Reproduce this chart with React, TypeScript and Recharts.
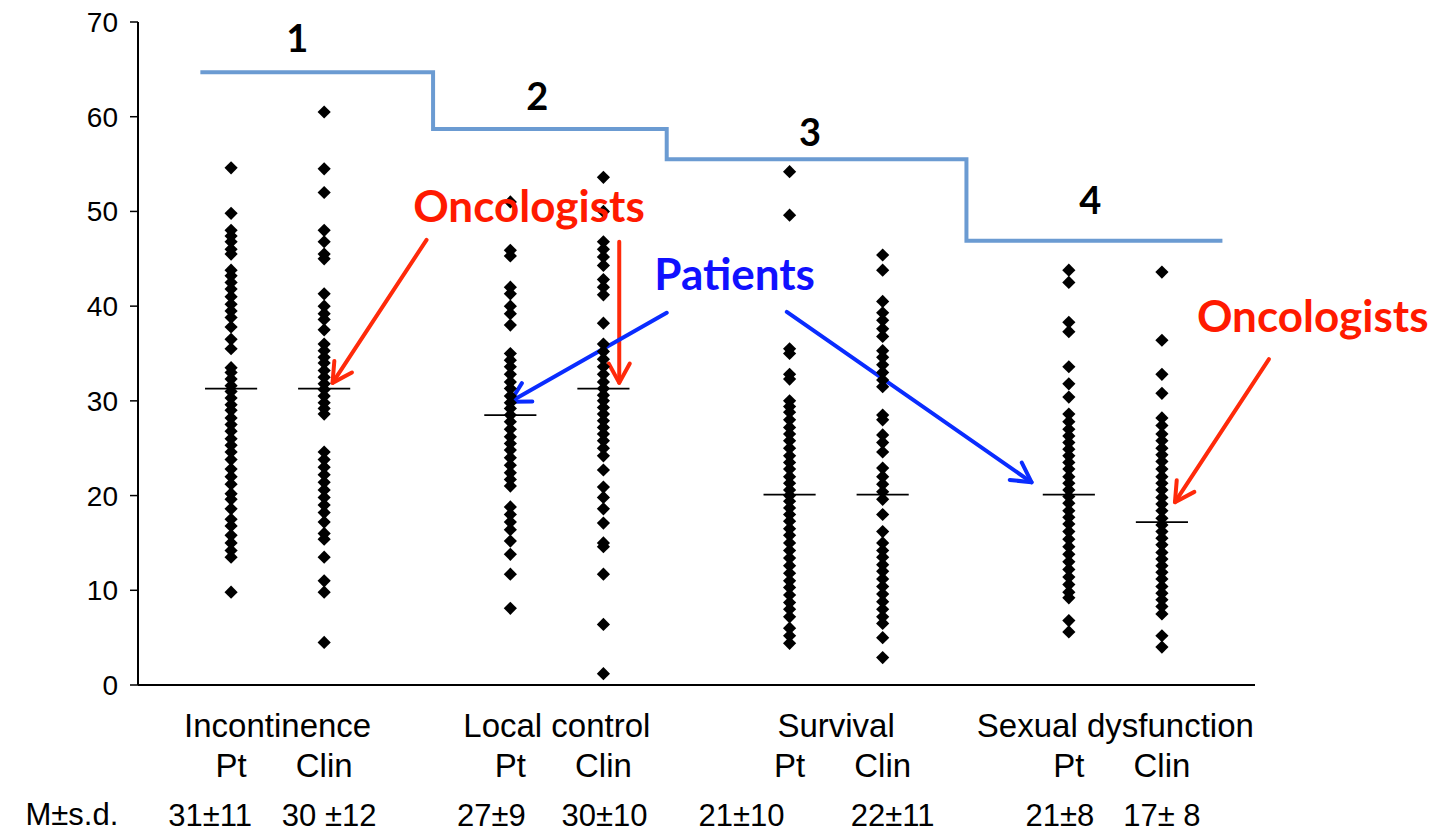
import {
  ComposedChart,
  Scatter,
  Line,
  XAxis,
  YAxis,
  ReferenceLine,
  ReferenceDot,
} from "recharts";

// column layout: Pt / Clin pairs per outcome
const colPos = [1, 2, 4, 5, 7, 8, 10, 11];
const groupPos = [1.5, 4.5, 7.5, 10.5];
const groups = ["Incontinence", "Local control", "Survival", "Sexual dysfunction"];
const roles = ["Pt", "Clin"];
const msd = ["31±11", "30 ±12", "27±9", "30±10", "21±10", "22±11", "21±8", "17± 8"];
const yTicks = [0, 10, 20, 30, 40, 50, 60, 70];

const incPt = [54.6, 49.8, 48.0, 47.4, 46.8, 46.0, 45.5, 43.8, 43.2, 42.5, 41.8, 41.0, 40.2, 39.5, 38.8, 37.8, 36.5, 35.5, 33.5, 33.0, 32.3, 31.6, 31.0, 30.3, 29.6, 29.0, 28.2, 27.5, 26.8, 26.0, 25.3, 24.6, 23.8, 22.8, 22.0, 21.2, 20.2, 19.6, 18.6, 17.5, 16.8, 15.8, 15.0, 14.2, 13.5, 9.8];
const incClin = [60.5, 54.5, 52.0, 48.0, 46.8, 45.5, 45.0, 41.3, 40.0, 39.2, 38.6, 37.5, 36.0, 35.3, 34.6, 34.0, 33.2, 32.5, 31.8, 31.2, 30.5, 29.8, 29.2, 28.6, 24.6, 23.8, 23.0, 22.2, 21.4, 20.6, 19.8, 19.0, 18.2, 17.2, 16.0, 15.4, 13.5, 11.0, 9.8, 4.5];
const lcPt = [51.0, 45.9, 45.3, 42.0, 41.3, 40.0, 39.2, 38.0, 35.0, 34.3, 33.6, 32.8, 32.0, 31.3, 30.5, 29.8, 29.2, 28.5, 27.8, 27.0, 26.2, 25.5, 24.8, 24.0, 23.2, 22.4, 21.7, 21.0, 18.8, 18.0, 17.2, 16.4, 15.2, 13.8, 11.7, 8.1];
const lcClin = [53.6, 50.0, 46.8, 46.0, 45.2, 44.3, 42.8, 42.0, 41.2, 38.2, 36.0, 35.2, 34.4, 33.6, 32.8, 32.0, 31.3, 30.6, 30.0, 29.3, 28.6, 27.9, 27.2, 26.5, 25.8, 25.0, 24.2, 22.7, 20.9, 19.8, 18.6, 17.1, 15.0, 14.6, 11.7, 6.4, 1.2];
const survPt = [54.2, 49.6, 35.5, 35.0, 32.8, 32.3, 30.0, 29.4, 28.8, 28.0, 27.2, 26.5, 25.8, 25.0, 24.2, 23.5, 22.8, 22.0, 21.3, 20.6, 20.0, 19.4, 18.7, 18.0, 17.3, 16.5, 15.8, 15.0, 14.2, 13.4, 12.6, 11.8, 11.0, 10.3, 9.5, 8.7, 8.0, 7.2, 6.0, 5.2, 4.4];
const survClin = [45.4, 43.8, 40.5, 39.3, 38.5, 37.6, 36.8, 35.3, 34.6, 33.8, 33.0, 32.2, 31.5, 28.5, 28.0, 26.4, 25.6, 24.6, 22.9, 22.0, 21.2, 20.4, 19.6, 18.0, 16.2, 15.0, 14.2, 13.5, 12.7, 12.0, 11.2, 10.4, 9.6, 8.8, 8.0, 7.2, 6.5, 5.0, 2.9];
const sexPt = [43.8, 42.5, 38.3, 37.3, 33.6, 31.8, 30.4, 28.6, 27.8, 27.0, 26.3, 25.6, 24.9, 24.2, 23.5, 22.8, 22.0, 21.3, 20.6, 19.9, 19.2, 18.4, 17.7, 17.0, 16.2, 15.4, 14.6, 13.8, 13.0, 12.2, 11.4, 10.6, 9.8, 9.2, 6.8, 5.6];
const sexClin = [43.6, 36.4, 32.8, 30.8, 28.2, 27.4, 26.5, 25.8, 25.0, 24.3, 23.6, 22.8, 22.0, 21.3, 20.6, 19.8, 19.1, 18.4, 17.6, 16.9, 16.2, 15.5, 14.8, 14.0, 13.3, 12.6, 11.9, 11.2, 10.4, 9.7, 9.0, 8.3, 7.5, 5.2, 4.0];
const columns = [incPt, incClin, lcPt, lcClin, survPt, survClin, sexPt, sexClin];

// horizontal bars drawn across each column
const means = [31.3, 31.3, 28.5, 31.3, 20.1, 20.1, 20.1, 17.2];

// ranking step line
const stepX = [0.67, 3.17, 5.68, 8.9, 11.65];
const stepY = [64.7, 58.7, 55.5, 46.9, 46.9];

// rank numbers above the steps
const rankLabels = ["1", "2", "3", "4"];
const rankX = [1.71, 4.29, 7.22, 10.23];
const rankY = [66.8, 60.7, 56.9, 49.7];

// callouts
const calloutText = ["Oncologists", "Patients", "Oncologists"];
const calloutColor = ["#ff1a00", "#1010ff", "#ff1a00"];
const calloutX = [4.2, 6.41, 12.62];
const calloutY = [48.9, 41.7, 37.3];

// arrows [x1, y1, x2, y2]
const arrows = [
  [3.1, 47.0, 2.09, 31.9],
  [5.17, 46.8, 5.17, 31.9],
  [5.68, 39.3, 4.0, 29.9],
  [6.97, 39.4, 9.6, 21.4],
  [12.15, 34.4, 11.14, 19.3],
];
const arrowColor = ["#ff2a0a", "#ff2a0a", "#0a2cff", "#0a2cff", "#ff2a0a"];

const stepData = stepX.map((x, i) => ({ x, y: stepY[i] }));
const FONT = "'Liberation Sans', Arial, sans-serif";
const BOLD = "Lato, 'Open Sans', sans-serif";
// the M±s.d. figures sit a little off their columns in the original
const msdShift = [-21, 5, -19, 1, -48, 10, -9, 0];

const Diamond = (p: any) => {
  const { cx, cy } = p;
  const r = 6.6;
  return <path d={`M${cx},${cy - r}L${cx + r},${cy}L${cx},${cy + r}L${cx - r},${cy}Z`} fill="#000" />;
};

const Arrow = (color: string) => (p: any) => {
  const { x1, y1, x2, y2 } = p;
  const a = Math.atan2(y2 - y1, x2 - x1);
  const len = 22;
  const sp = 0.5;
  const ax = x2 - len * Math.cos(a - sp);
  const ay = y2 - len * Math.sin(a - sp);
  const bx = x2 - len * Math.cos(a + sp);
  const by = y2 - len * Math.sin(a + sp);
  return (
    <g stroke={color} strokeWidth={4} strokeLinecap="round" fill="none">
      <line x1={x1} y1={y1} x2={x2} y2={y2} />
      <polyline points={`${ax},${ay} ${x2},${y2} ${bx},${by}`} strokeLinejoin="round" />
    </g>
  );
};

const XTick = (p: any) => {
  const { x, y, payload } = p;
  const v = payload.value;
  const gi = groupPos.indexOf(v);
  if (gi >= 0) {
    return (
      <text x={x} y={y + 44} textAnchor="middle" fontFamily={FONT} fontSize={33} fill="#000">
        {groups[gi]}
      </text>
    );
  }
  const ci = colPos.indexOf(v);
  if (ci < 0) return <g />;
  return (
    <g>
      <text x={x} y={y + 84} textAnchor="middle" fontFamily={FONT} fontSize={33} fill="#000">
        {roles[ci % 2]}
      </text>
      <text x={x + msdShift[ci]} y={y + 133} textAnchor="middle" fontFamily={FONT} fontSize={31} fill="#000">
        {msd[ci]}
      </text>
    </g>
  );
};

export default function App() {
  return (
    <div style={{ marginBottom: -8 }}>
      <ComposedChart
        width={1420}
        height={829}
        margin={{ top: 14, right: 173, bottom: 0, left: 0 }}
      >
        <XAxis
          type="number"
          dataKey="x"
          domain={[0, 12]}
          ticks={[...colPos, ...groupPos].sort((a, b) => a - b)}
          interval={0}
          tick={XTick}
          tickLine={false}
          axisLine={{ stroke: "#000", strokeWidth: 2 }}
          height={152}
        />
        <YAxis
          type="number"
          dataKey="y"
          domain={[0, 70]}
          ticks={yTicks}
          interval={0}
          width={130}
          tickSize={8}
          tickMargin={12}
          axisLine={{ stroke: "#000", strokeWidth: 2 }}
          tickLine={{ stroke: "#000", strokeWidth: 1.5 }}
          tick={{ fontFamily: FONT, fontSize: 28, fill: "#000" }}
        />
        {columns.map((vals, i) => (
          <Scatter
            key={i}
            data={vals.map((y) => ({ x: colPos[i], y }))}
            shape={Diamond}
            isAnimationActive={false}
          />
        ))}
        {means.map((m, i) => (
          <ReferenceLine
            key={"m" + i}
            segment={[
              { x: colPos[i] - 0.28, y: m },
              { x: colPos[i] + 0.28, y: m },
            ]}
            stroke="#000"
            strokeWidth={1.8}
            ifOverflow="visible"
          />
        ))}
        <Line
          data={stepData}
          dataKey="y"
          type="stepAfter"
          stroke="#6b9bd2"
          strokeWidth={4}
          dot={false}
          activeDot={false}
          isAnimationActive={false}
        />
        {arrows.map((a, i) => (
          <ReferenceLine
            key={"a" + i}
            segment={[
              { x: a[0], y: a[1] },
              { x: a[2], y: a[3] },
            ]}
            ifOverflow="visible"
            shape={Arrow(arrowColor[i])}
          />
        ))}
        {rankLabels.map((t, i) => (
          <ReferenceDot
            key={"r" + i}
            x={rankX[i]}
            y={rankY[i]}
            ifOverflow="visible"
            shape={(p: any) => (
              <text x={p.cx} y={p.cy} textAnchor="middle" fontFamily={BOLD} fontWeight={700} fontSize={38} fill="#000">
                {t}
              </text>
            )}
          />
        ))}
        {calloutText.map((t, i) => (
          <ReferenceDot
            key={"c" + i}
            x={calloutX[i]}
            y={calloutY[i]}
            ifOverflow="visible"
            shape={(p: any) => (
              <text x={p.cx} y={p.cy} textAnchor="middle" fontFamily={BOLD} fontWeight={700} fontSize={44} fill={calloutColor[i]}>
                {t}
              </text>
            )}
          />
        ))}
        <ReferenceDot
          x={-0.71}
          y={-14.8}
          ifOverflow="visible"
          shape={(p: any) => (
            <text x={p.cx} y={p.cy} textAnchor="middle" fontFamily={FONT} fontSize={31} fill="#000">
              M±s.d.
            </text>
          )}
        />
      </ComposedChart>
    </div>
  );
}
